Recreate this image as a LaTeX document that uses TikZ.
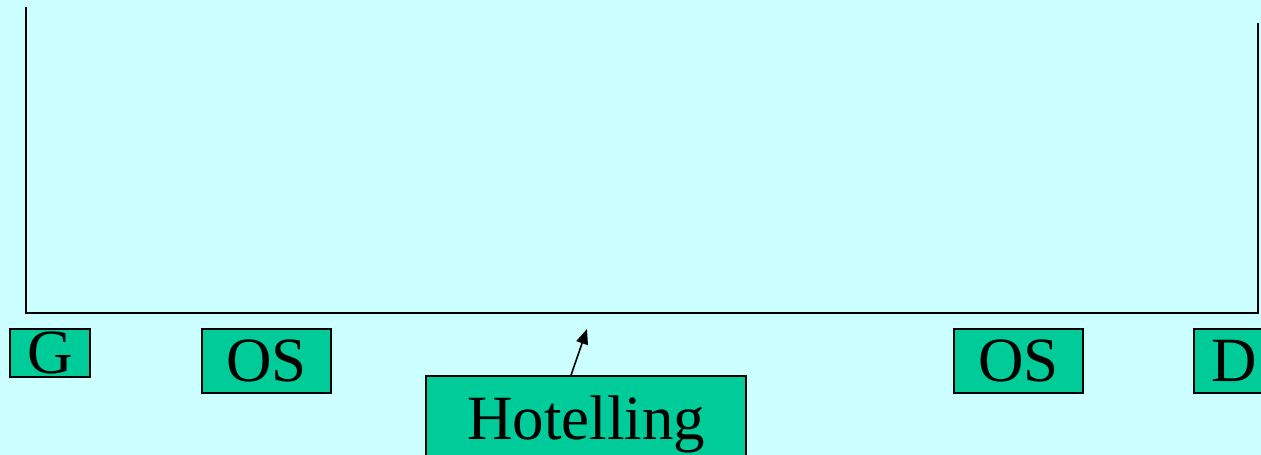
\documentclass[tikz,border=0pt]{standalone}
\usepackage{fontspec}
\setmainfont{Liberation Serif}
\usetikzlibrary{arrows.meta,calc}
\definecolor{bgcyan}{HTML}{CCFFFF}
\definecolor{boxgreen}{HTML}{00CC99}
\begin{document}
\begin{tikzpicture}[x=1pt,y=-1pt,
  lbl/.style={draw=black,line width=1.6pt,fill=boxgreen,rectangle,inner sep=0pt,
    font=\fontsize{63}{70}\selectfont,text height=41.7pt,text depth=0pt,anchor=center},
  axis/.style={line width=2pt,black}]
\fill[bgcyan] (0,0) rectangle (1261,455);
\useasboundingbox (0,0) rectangle (1261,455);
% axes
\coordinate (lt) at (26,8);
\coordinate (lb) at (26,312.5);
\coordinate (rb) at (1258,312.5);
\coordinate (rt) at (1258,24);
\draw[axis,line cap=rect] (lt) -- (lb) -- (rb) -- (rt);
% labels
\node[lbl,minimum width=80pt,minimum height=48pt] (g) at (50,353) {G};
\node[lbl,minimum width=129pt,minimum height=64.5pt] (os1) at (266.5,361) {OS};
\node[lbl,minimum width=320pt,minimum height=85pt] (hot) at (586,418.5) {Hotelling};
\node[lbl,minimum width=129pt,minimum height=64.5pt] (os2) at (1018.5,361) {OS};
\node[lbl,minimum width=81pt,minimum height=64.5pt] (d) at (1234.5,361) {D};
% arrow
\coordinate (tip) at (587,329);
\draw[line width=1.6pt,-{Triangle[length=15pt,width=12pt]}] ($(hot.north)+(-15,0)$) -- (tip);
\end{tikzpicture}
\end{document}
